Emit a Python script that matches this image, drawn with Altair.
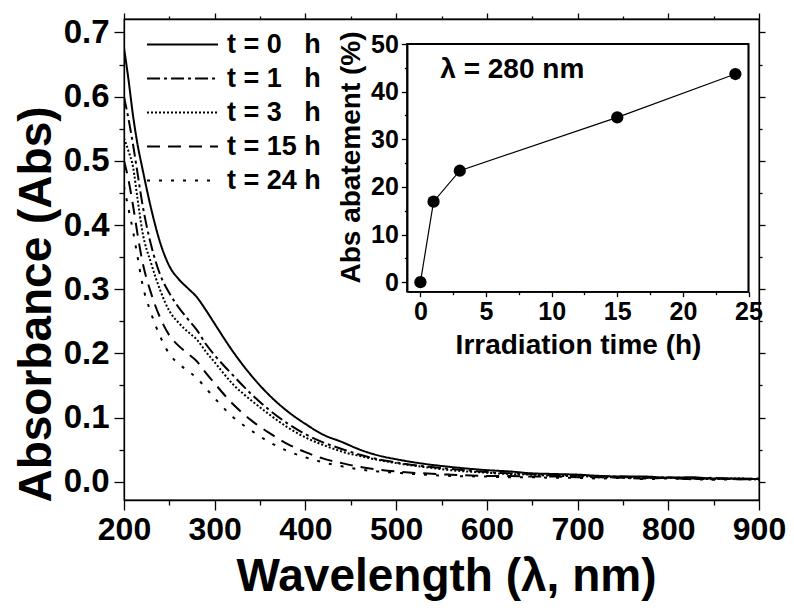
import altair as alt
import pandas as pd

# ---------------- data ----------------
wavelength = [200, 205, 210, 215, 220, 230, 240, 250, 260, 270, 280, 290, 300, 320, 340,
              360, 380, 400, 420, 440, 460, 480, 500, 530, 560,
              600, 625, 650, 675, 700, 725, 750, 775, 800, 825, 850, 875, 900]
abs_t0 = [0.676, 0.626, 0.570, 0.525, 0.490, 0.425, 0.372, 0.336, 0.316, 0.302, 0.288, 0.268, 0.246,
          0.203, 0.166, 0.135, 0.110, 0.090, 0.073, 0.062, 0.050, 0.041, 0.035, 0.028, 0.023,
          0.018, 0.016, 0.013, 0.012, 0.011, 0.009, 0.008, 0.008, 0.006, 0.007, 0.005, 0.005, 0.004]
abs_t1 = [0.600, 0.565, 0.525, 0.480, 0.435, 0.368, 0.322, 0.294, 0.272, 0.254, 0.237, 0.215, 0.197,
          0.166, 0.137, 0.112, 0.091, 0.074, 0.061, 0.051, 0.042, 0.035, 0.030, 0.024, 0.020,
          0.015, 0.013, 0.012, 0.010, 0.010, 0.008, 0.008, 0.006, 0.007, 0.005, 0.006, 0.004, 0.005]
abs_t3 = [0.535, 0.515, 0.490, 0.440, 0.392, 0.340, 0.298, 0.266, 0.248, 0.234, 0.222, 0.203, 0.186,
          0.152, 0.127, 0.105, 0.085, 0.069, 0.057, 0.047, 0.040, 0.034, 0.029, 0.023, 0.018,
          0.014, 0.012, 0.011, 0.009, 0.009, 0.007, 0.007, 0.006, 0.006, 0.005, 0.004, 0.005, 0.003]
abs_t15 = [0.500, 0.470, 0.430, 0.385, 0.345, 0.293, 0.255, 0.228, 0.212, 0.200, 0.188, 0.170, 0.153,
           0.121, 0.096, 0.076, 0.059, 0.046, 0.036, 0.029, 0.023, 0.019, 0.016, 0.013, 0.011,
           0.009, 0.009, 0.008, 0.008, 0.007, 0.007, 0.006, 0.005, 0.006, 0.004, 0.005, 0.004, 0.004]
abs_t24 = [0.460, 0.425, 0.390, 0.350, 0.310, 0.262, 0.226, 0.199, 0.184, 0.173, 0.162, 0.146, 0.130,
           0.101, 0.080, 0.062, 0.048, 0.038, 0.030, 0.024, 0.019, 0.016, 0.014, 0.011, 0.009,
           0.008, 0.007, 0.007, 0.006, 0.006, 0.005, 0.006, 0.004, 0.005, 0.004, 0.003, 0.004, 0.003]

series_names = ["t = 0\u00a0\u00a0\u00a0h", "t = 1\u00a0\u00a0\u00a0h", "t = 3\u00a0\u00a0\u00a0h",
                "t = 15 h", "t = 24 h"]
series_values = [abs_t0, abs_t1, abs_t3, abs_t15, abs_t24]
series_dashes = [[1, 0], [13, 4, 3, 4], [2, 2], [13, 8], [3, 9]]

x_ticks = [200, 250, 300, 350, 400, 450, 500, 550, 600, 650, 700, 750, 800, 850, 900]
y_ticks = [0.0, 0.05, 0.1, 0.15, 0.2, 0.25, 0.3, 0.35, 0.4, 0.45, 0.5, 0.55, 0.6, 0.65, 0.7]
x_domain = [200, 900]
y_domain = [-0.0285, 0.721]

# inset
irr_time = [0, 1, 3, 15, 24]
abatement = [0.0, 16.9, 23.4, 34.6, 43.7]
inset_x_ticks = [0, 2.5, 5, 7.5, 10, 12.5, 15, 17.5, 20, 22.5, 25]
inset_y_ticks = [0, 5, 10, 15, 20, 25, 30, 35, 40, 45, 50]
inset_x_domain = [-1, 25]
inset_y_domain = [-2, 50]
inset_label = ["λ = 280 nm"]
inset_label_pos = [7.0, 44.5]

rows = []
for name, vals in zip(series_names, series_values):
    for w, v in zip(wavelength, vals):
        rows.append({"wl": w, "abs": v, "series": name})
df = pd.DataFrame(rows)
df_inset = pd.DataFrame({"t": irr_time, "ab": abatement})

FONT = "Liberation Sans"
W, H = 635, 481
MAJ_X = "datum.value % 100 == 0"
MAJ_Y = "abs(datum.value*10 - round(datum.value*10)) < 0.001"

main = alt.Chart(df).mark_line(strokeWidth=2, color="black", interpolate="monotone", clip=True).encode(
    x=alt.X("wl:Q", scale=alt.Scale(domain=x_domain, nice=False, zero=False),
            axis=alt.Axis(values=x_ticks, title="Wavelength (λ, nm)", grid=False, labelFlush=False,
                          labelExpr=f"{MAJ_X} ? datum.label : ''",
                          tickSize={"condition": {"test": MAJ_X, "value": 10}, "value": 5},
                          labelFontSize=32, labelPadding=4, format="d",
                          titleFontSize=46, titleX=322, titleY=90, titleBaseline="alphabetic",
                          titleAnchor="middle")),
    y=alt.Y("abs:Q", scale=alt.Scale(domain=y_domain, nice=False, zero=False),
            axis=alt.Axis(values=y_ticks, title="Absorbance (Abs)", format=".1f", grid=False, labelFlush=False,
                          labelExpr=f"{MAJ_Y} ? datum.label : ''",
                          tickSize={"condition": {"test": MAJ_Y, "value": 10}, "value": 5},
                          labelFontSize=33, labelPadding=5,
                          titleFontSize=46, titleX=-74, titleY=285, titleBaseline="alphabetic",
                          titleAngle=270, titleAnchor="middle")),
    strokeDash=alt.StrokeDash("series:N", scale=alt.Scale(domain=series_names, range=series_dashes),
                              legend=alt.Legend(orient="none", legendX=22, legendY=12, title=None,
                                                symbolType="stroke", symbolSize=5041,
                                                symbolStrokeWidth=2, symbolStrokeColor="black",
                                                labelFontSize=27, labelFont=FONT, labelFontWeight="bold",
                                                labelColor="black", labelOffset=8, rowPadding=6,
                                                clipHeight=27, padding=0, labelLimit=300)),
)

# mirrored ticks on the top and right edges of the main frame
mirror = alt.Chart(df).mark_point(opacity=0).encode(
    x=alt.X("wl:Q", scale=alt.Scale(domain=x_domain, nice=False, zero=False),
            axis=alt.Axis(orient="top", values=x_ticks, labels=False, title=None, grid=False,
                          tickSize={"condition": {"test": MAJ_X, "value": 6}, "value": 3})),
    y=alt.Y("abs:Q", scale=alt.Scale(domain=y_domain, nice=False, zero=False),
            axis=alt.Axis(orient="right", values=y_ticks, labels=False, title=None, grid=False,
                          tickSize={"condition": {"test": MAJ_Y, "value": 6}, "value": 3})),
)

ix = alt.Scale(domain=inset_x_domain, range=[283.3, 624.5], nice=False, zero=False)
iy = alt.Scale(domain=inset_y_domain, range=[272.7, 25], nice=False, zero=False)

inset_frame = alt.Chart(df_inset).mark_rect(fillOpacity=0, stroke="black", strokeWidth=1.3).encode(
    x=alt.datum(inset_x_domain[0], scale=ix,
                axis=alt.Axis(orient="bottom", offset=-208.3, values=inset_x_ticks, title="Irradiation time (h)",
                              grid=False, labelFlush=False,
                              labelExpr="datum.value % 5 == 0 ? datum.label : ''",
                              tickSize={"condition": {"test": "datum.value % 5 == 0", "value": 5}, "value": 3},
                              labelFontSize=25, labelPadding=3, format="d",
                              titleFontSize=28, titleX=454, titleY=62, titleBaseline="alphabetic",
                              titleAnchor="middle")),
    x2=alt.datum(inset_x_domain[1]),
    y=alt.datum(inset_y_domain[0], scale=iy,
                axis=alt.Axis(orient="left", offset=-283.3, values=inset_y_ticks, title="Abs abatement (%)",
                              grid=False, labelFlush=False,
                              labelExpr="datum.value % 10 == 0 ? datum.label : ''",
                              tickSize={"condition": {"test": "datum.value % 10 == 0", "value": 6}, "value": 3},
                              labelFontSize=25, labelPadding=3, format="d",
                              titleFontSize=28, titleX=-48, titleY=138, titleBaseline="alphabetic",
                              titleAngle=270, titleAnchor="middle")),
    y2=alt.datum(inset_y_domain[1]),
)

inset_line = alt.Chart(df_inset).mark_line(color="black", strokeWidth=1.2).encode(
    x=alt.X("t:Q", scale=ix), y=alt.Y("ab:Q", scale=iy))
inset_pts = alt.Chart(df_inset).mark_circle(color="black", opacity=1, size=150).encode(
    x=alt.X("t:Q", scale=ix), y=alt.Y("ab:Q", scale=iy))
inset_text = alt.Chart(pd.DataFrame({"x": [inset_label_pos[0]], "y": [inset_label_pos[1]],
                                     "txt": inset_label})).mark_text(
    font=FONT, fontWeight="bold", fontSize=28, color="black", align="center", baseline="middle").encode(
    x=alt.X("x:Q", scale=ix), y=alt.Y("y:Q", scale=iy), text="txt:N")

inset = alt.layer(inset_frame, inset_line, inset_pts, inset_text)

chart = alt.layer(main, inset, mirror).resolve_scale(x="independent", y="independent").properties(
    width=W, height=H,
    background="white",
    autosize=alt.AutoSizeParams(type="none"),
    padding={"left": 116, "top": 11, "right": 27, "bottom": 102},
).configure_view(stroke="black", strokeWidth=1.3).configure_axis(
    labelFont=FONT, labelFontWeight="bold", labelColor="black",
    titleFont=FONT, titleFontWeight="bold", titleColor="black",
    domainColor="black", domainWidth=1.3, tickColor="black", tickWidth=1.3, grid=False,
    labelOverlap=False,
)

chart.save("out.html", embed_options={"renderer": "svg", "actions": False})
